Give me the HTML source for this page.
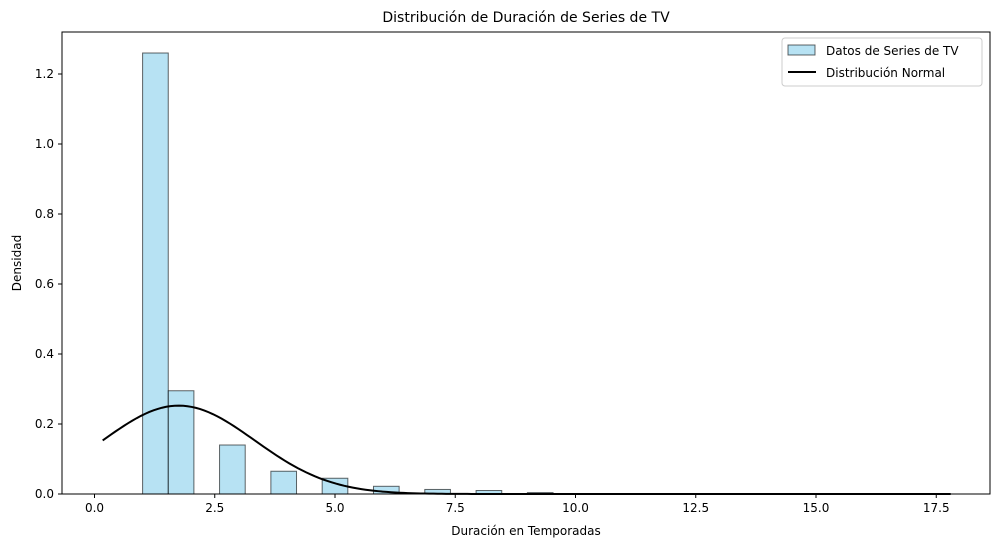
<!DOCTYPE html>
<html><head><meta charset="utf-8"><style>
body{margin:0;background:#fff;font-family:"Liberation Sans","DejaVu Sans",sans-serif}
svg text{font-family:"DejaVu Sans","Liberation Sans",sans-serif;fill:#000}
</style></head><body>
<svg id="chart" width="1001" height="548" xmlns="http://www.w3.org/2000/svg">
<text x="526" y="22" text-anchor="middle" font-size="14">Distribución de Duración de Series de TV</text>
<g id="bars"></g>
<g id="curve"></g>
<rect x="62" y="32" width="928" height="462" fill="none" stroke="#000" stroke-width="1"/>
<g id="xticks"></g><g id="yticks"></g>
<text x="526" y="535" text-anchor="middle" font-size="12">Duración en Temporadas</text>
<text transform="translate(21,263) rotate(-90)" text-anchor="middle" font-size="12">Densidad</text>
<g>
<rect x="782" y="38" width="200" height="48" rx="3" fill="#fff" stroke="#ccc"/>
<rect x="788" y="45" width="27" height="10" fill="#87ceeb" fill-opacity="0.6" stroke="#000" stroke-opacity="0.6"/>
<text x="826" y="55" font-size="12">Datos de Series de TV</text>
<line x1="788" y1="72" x2="816" y2="72" stroke="#000" stroke-width="2"/>
<text x="826" y="77" font-size="12">Distribución Normal</text>
</g>
</svg>
<script>
const binStart = 1, binWidth = 16/30;
const binDensity = [1.26,0.295,0,0.14,0,0.065,0,0.045,0,0.022,0,0.013,0,0.01,0,0.004,0,0,0,0,0,0,0,0.001,0,0,0,0,0,0];
const normMean = [1.75];
const normSd = [1.58];
const curveRange = [0.17, 17.8];
const xTickLabels = ["0.0","2.5","5.0","7.5","10.0","12.5","15.0","17.5"];
const yTickLabels = ["0.0","0.2","0.4","0.6","0.8","1.0","1.2"];
const NS="http://www.w3.org/2000/svg";
const X=v=>94.5+v*48.1, Y=v=>494-v*350;
const bars=document.getElementById('bars');
binDensity.forEach((d,i)=>{ if(d<=0) return;
 const r=document.createElementNS(NS,'rect');
 const x0=X(binStart+i*binWidth), x1=X(binStart+(i+1)*binWidth);
 r.setAttribute('x',x0);r.setAttribute('width',x1-x0);
 r.setAttribute('y',Y(d));r.setAttribute('height',Y(0)-Y(d));
 r.setAttribute('fill','#87ceeb');r.setAttribute('fill-opacity','0.6');
 r.setAttribute('stroke','#000');r.setAttribute('stroke-opacity','0.6');
 
 
 bars.appendChild(r);});
let pts=[];const m=normMean[0],s=normSd[0];
for(let k=0;k<=200;k++){const x=curveRange[0]+(curveRange[1]-curveRange[0])*k/200;
 const y=Math.exp(-0.5*((x-m)/s)**2)/(s*Math.sqrt(2*Math.PI));pts.push(X(x).toFixed(2)+','+Y(y).toFixed(2));}
const pl=document.createElementNS(NS,'polyline');
pl.setAttribute('points',pts.join(' '));pl.setAttribute('fill','none');pl.setAttribute('stroke','#000');pl.setAttribute('stroke-width','2');


document.getElementById('curve').appendChild(pl);
const xt=document.getElementById('xticks');
xTickLabels.forEach(l=>{const x=X(parseFloat(l));
 const ln=document.createElementNS(NS,'line');ln.setAttribute('x1',x);ln.setAttribute('x2',x);ln.setAttribute('y1',494);ln.setAttribute('y2',498);ln.setAttribute('stroke','#000');xt.appendChild(ln);
 const t=document.createElementNS(NS,'text');t.setAttribute('x',x);t.setAttribute('y',512);t.setAttribute('text-anchor','middle');t.setAttribute('font-size','12');t.textContent=l;
 
 
 xt.appendChild(t);});
const yt=document.getElementById('yticks');
yTickLabels.forEach(l=>{const y=Y(parseFloat(l));
 const ln=document.createElementNS(NS,'line');ln.setAttribute('x1',58);ln.setAttribute('x2',62);ln.setAttribute('y1',y);ln.setAttribute('y2',y);ln.setAttribute('stroke','#000');yt.appendChild(ln);
 const t=document.createElementNS(NS,'text');t.setAttribute('x',54);t.setAttribute('y',y+4);t.setAttribute('text-anchor','end');t.setAttribute('font-size','12');t.textContent=l;
 
 
 yt.appendChild(t);});
</script>
</body></html>
